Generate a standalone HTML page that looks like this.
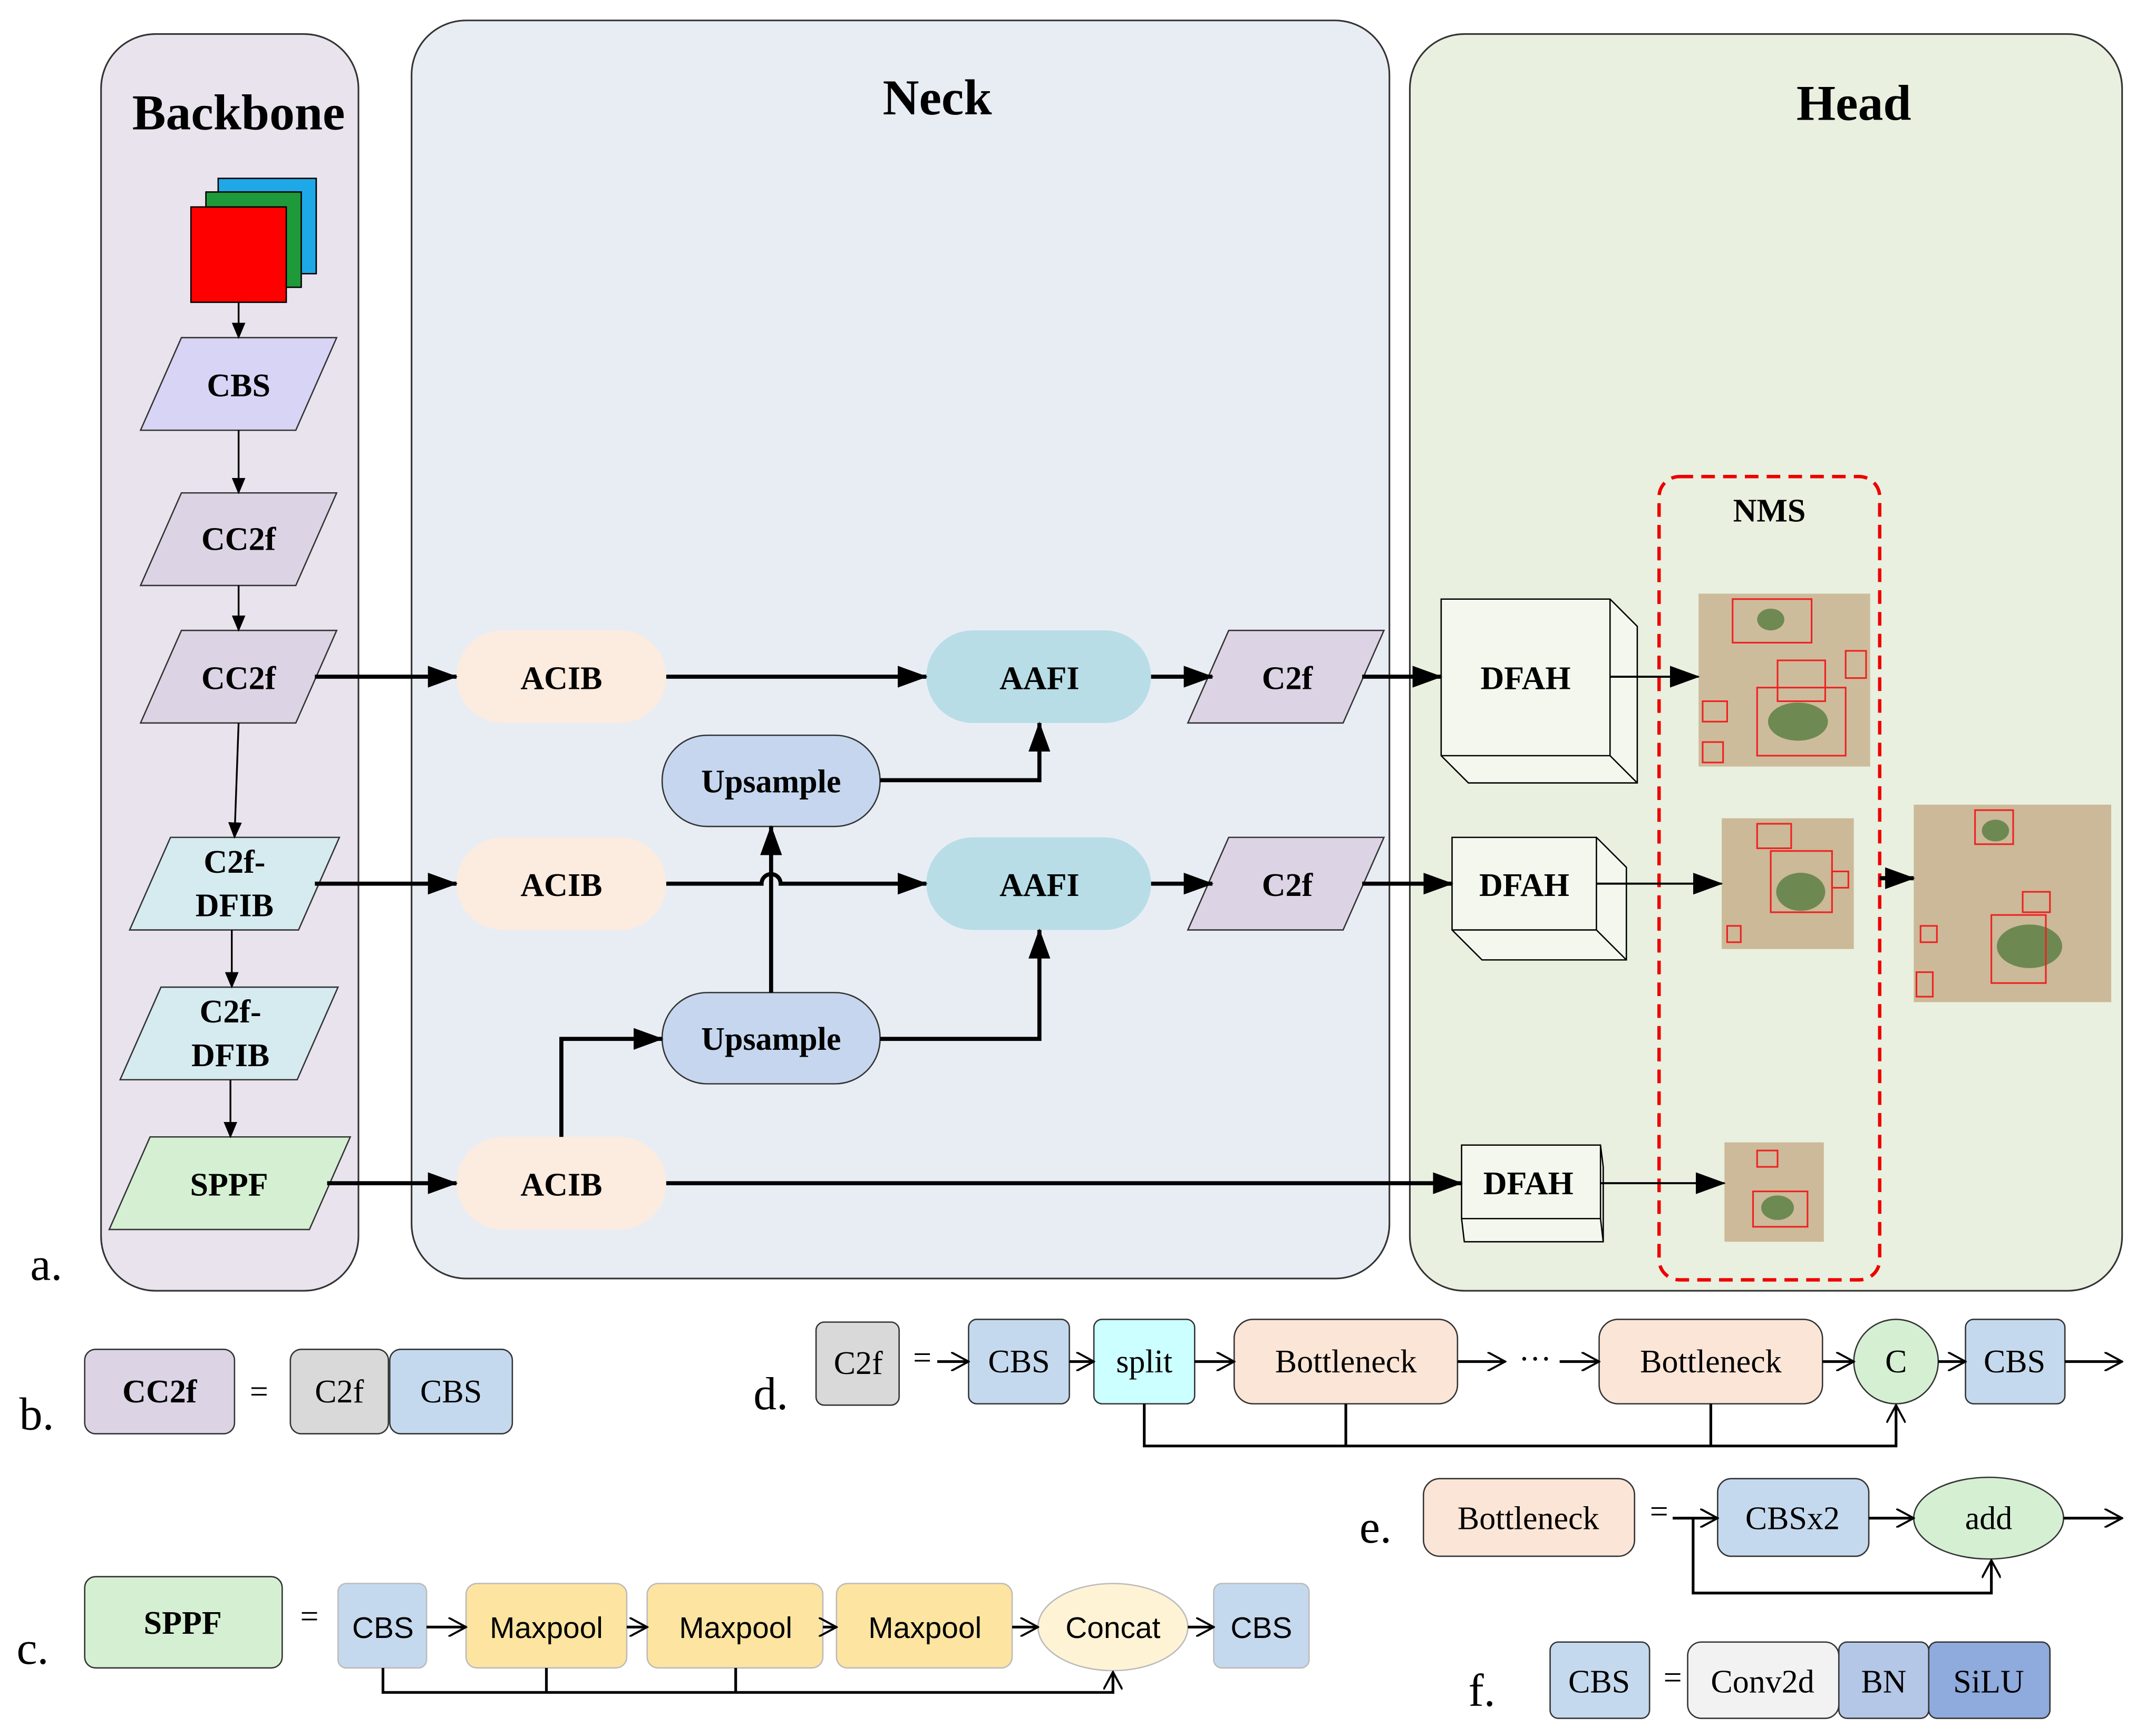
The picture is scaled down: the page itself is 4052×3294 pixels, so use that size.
<!DOCTYPE html>
<html><head><meta charset="utf-8"><style>
html,body{margin:0;padding:0;background:#fff;}
svg{display:block;}
.s{font-family:"Liberation Serif",serif;}
.ss{font-family:"Liberation Sans",sans-serif;}
.b{font-weight:bold;}
</style></head><body>
<svg width="4052" height="3294" viewBox="0 0 1568 1275" xmlns="http://www.w3.org/2000/svg">
<defs>
<marker id="A" markerWidth="22" markerHeight="16" refX="21" refY="8" orient="auto" markerUnits="userSpaceOnUse"><path d="M0,0 L22,8 L0,16 z" fill="#000"/></marker>
<marker id="a" markerWidth="12" markerHeight="10" refX="11" refY="5" orient="auto" markerUnits="userSpaceOnUse"><path d="M0,0 L12,5 L0,10 z" fill="#000"/></marker>
<marker id="o" markerWidth="14" markerHeight="14" refX="13" refY="7" orient="auto" markerUnits="userSpaceOnUse"><path d="M0,0 L13,7 L0,14" fill="none" stroke="#000" stroke-width="1.5"/></marker>
</defs>
<rect width="1568" height="1275" fill="#fff"/>
<rect x="74" y="25" width="189" height="923" rx="40" fill="#e8e3ec" stroke="#333" stroke-width="1.2"/>
<rect x="302" y="15" width="718" height="924" rx="40" fill="#e8edf4" stroke="#333" stroke-width="1.2"/>
<rect x="1035" y="25" width="523" height="923" rx="40" fill="#e9f0df" stroke="#333" stroke-width="1.2"/>
<g class="s b" font-size="37" text-anchor="middle">
<text x="175" y="95">Backbone</text><text x="688" y="84">Neck</text><text x="1361" y="88">Head</text></g>
<rect x="160" y="131" width="72" height="70" fill="#1fa8e8" stroke="#000"/>
<rect x="151" y="141" width="70" height="70" fill="#1e9a3a" stroke="#000"/>
<rect x="140" y="152" width="70" height="70" fill="#f00" stroke="#000"/>
<g stroke="#333" stroke-width="1">
<polygon points="103,316 133,248 247,248 217,316" fill="#d8d4f5"/>
<polygon points="103,430 133,362 247,362 217,430" fill="#dcd4e4"/>
<polygon points="103,531 133,463 247,463 217,531" fill="#dcd4e4"/>
<polygon points="95,683 125,615 249,615 219,683" fill="#d6ebf0"/>
<polygon points="88,793 118,725 248,725 218,793" fill="#d6ebf0"/>
<polygon points="80,903 110,835 257,835 227,903" fill="#d5efd3"/>
</g>
<g class="s b" font-size="24" text-anchor="middle">
<text x="175" y="291">CBS</text><text x="175" y="404">CC2f</text><text x="175" y="506">CC2f</text>
<text x="172" y="641">C2f-</text><text x="172" y="673">DFIB</text>
<text x="169" y="751">C2f-</text><text x="169" y="783">DFIB</text>
<text x="168" y="878">SPPF</text></g>
<g stroke="#000" stroke-width="1.3" marker-end="url(#a)">
<line x1="175" y1="222" x2="175" y2="248"/><line x1="175" y1="316" x2="175" y2="362"/>
<line x1="175" y1="430" x2="175" y2="463"/><line x1="175" y1="531" x2="172" y2="615"/>
<line x1="170" y1="683" x2="170" y2="725"/><line x1="169" y1="793" x2="169" y2="835"/></g>
<g stroke="none">
<rect x="335" y="463" width="154" height="68" rx="34" fill="#fcebdf"/>
<rect x="335" y="615" width="154" height="68" rx="34" fill="#fcebdf"/>
<rect x="335" y="835" width="154" height="68" rx="34" fill="#fcebdf"/>
<rect x="680" y="463" width="165" height="68" rx="34" fill="#b8dde6"/>
<rect x="680" y="615" width="165" height="68" rx="34" fill="#b8dde6"/>
</g>
<rect x="486" y="540" width="160" height="67" rx="33" fill="#c5d6ee" stroke="#333"/>
<rect x="486" y="729" width="160" height="67" rx="33" fill="#c5d6ee" stroke="#333"/>
<g stroke="#333"><polygon points="872,531 902,463 1016,463 986,531" fill="#dcd4e4"/>
<polygon points="872,683 902,615 1016,615 986,683" fill="#dcd4e4"/></g>
<g class="s b" font-size="24" text-anchor="middle">
<text x="412" y="506">ACIB</text><text x="412" y="658">ACIB</text><text x="412" y="878">ACIB</text>
<text x="763" y="506">AAFI</text><text x="763" y="658">AAFI</text>
<text x="566" y="582">Upsample</text><text x="566" y="771">Upsample</text>
<text x="945" y="506">C2f</text><text x="945" y="658">C2f</text></g>
<g fill="#f4f7ee" stroke="#000" stroke-width="1">
<path d="M1058,440 L1182,440 L1202,460 L1202,575 L1078,575 L1058,555 Z"/>
<path d="M1182,440 V555 H1058 M1182,555 L1202,575" fill="none"/>
<path d="M1066,615 L1172,615 L1194,637 L1194,705 L1088,705 L1066,683 Z"/>
<path d="M1172,615 V683 H1066 M1172,683 L1194,705" fill="none"/>
<path d="M1073,841 L1175,841 L1177,857 L1177,912 L1075,912 L1073,895 Z"/>
<path d="M1175,841 V895 H1073 M1175,895 L1177,912" fill="none"/>
</g>
<g class="s b" font-size="24" text-anchor="middle">
<text x="1120" y="506">DFAH</text><text x="1119" y="658">DFAH</text><text x="1122" y="877">DFAH</text></g>
<rect x="1218" y="350" width="162" height="590" rx="15" fill="none" stroke="#e00" stroke-width="2.5" stroke-dasharray="10,6"/>
<text x="1299" y="383" class="s b" font-size="24" text-anchor="middle">NMS</text>
<g>
<rect x="1247" y="436" width="126" height="127" fill="#cdbc9c"/>
<rect x="1264" y="601" width="97" height="96" fill="#cbb998"/>
<rect x="1266" y="839" width="73" height="73" fill="#ccba9a"/>
<rect x="1405" y="591" width="145" height="145" fill="#cbb999"/>
<g fill="#4e7a3a" opacity="0.75">
<ellipse cx="1320" cy="530" rx="22" ry="14"/><ellipse cx="1300" cy="455" rx="10" ry="8"/>
<ellipse cx="1322" cy="655" rx="18" ry="14"/><ellipse cx="1305" cy="887" rx="12" ry="9"/>
<ellipse cx="1490" cy="695" rx="24" ry="16"/><ellipse cx="1465" cy="610" rx="10" ry="8"/></g>
<g fill="none" stroke="#e22" stroke-width="1.2">
<rect x="1290" y="505" width="65" height="50"/><rect x="1305" y="485" width="35" height="30"/>
<rect x="1272" y="440" width="58" height="32"/><rect x="1250" y="515" width="18" height="15"/>
<rect x="1250" y="545" width="15" height="15"/><rect x="1355" y="478" width="15" height="20"/>
<rect x="1300" y="625" width="45" height="45"/><rect x="1290" y="605" width="25" height="18"/>
<rect x="1268" y="680" width="10" height="12"/><rect x="1345" y="640" width="12" height="12"/>
<rect x="1287" y="875" width="40" height="26"/><rect x="1290" y="845" width="15" height="12"/>
<rect x="1462" y="672" width="40" height="50"/><rect x="1450" y="595" width="28" height="25"/>
<rect x="1407" y="714" width="12" height="18"/><rect x="1410" y="680" width="12" height="12"/>
<rect x="1485" y="655" width="20" height="15"/></g>
</g>
<g stroke="#000" stroke-width="3" fill="none" marker-end="url(#A)">
<line x1="231" y1="497" x2="335" y2="497"/><line x1="489" y1="497" x2="680" y2="497"/>
<line x1="845" y1="497" x2="890" y2="497"/><line x1="1000" y1="497" x2="1058" y2="497"/>
<polyline points="646,573 763,573 763,531"/>
<line x1="231" y1="649" x2="335" y2="649"/>
<path d="M489,649 H559 A7,7 0 0 1 573,649 H680"/>
<line x1="845" y1="649" x2="890" y2="649"/><line x1="1000" y1="649" x2="1066" y2="649"/>
<polyline points="412,835 412,763 486,763"/>
<line x1="566" y1="729" x2="566" y2="607"/>
<polyline points="646,763 763,763 763,683"/>
<line x1="240" y1="869" x2="335" y2="869"/><line x1="489" y1="869" x2="1073" y2="869"/>
<line x1="1380" y1="645" x2="1405" y2="645"/>
</g>
<g stroke="#000" stroke-width="1.5" marker-end="url(#A)">
<line x1="1182" y1="497" x2="1247" y2="497"/><line x1="1172" y1="649" x2="1264" y2="649"/>
<line x1="1175" y1="869" x2="1266" y2="869"/></g>
<g class="s" font-size="34">
<text x="22" y="940">a.</text><text x="14" y="1050">b.</text><text x="12" y="1222">c.</text>
<text x="553" y="1035">d.</text><text x="998" y="1133">e.</text><text x="1078" y="1253">f.</text></g>
<rect x="62" y="991" width="110" height="62" rx="8" fill="#dcd4e4" stroke="#333"/>
<text x="117" y="1030" class="s b" font-size="24" text-anchor="middle">CC2f</text>
<text x="190" y="1030" class="s" font-size="24" text-anchor="middle">=</text>
<rect x="213" y="991" width="72" height="62" rx="8" fill="#d9d9d9" stroke="#333"/>
<rect x="286" y="991" width="90" height="62" rx="8" fill="#c5d9ee" stroke="#333"/>
<g class="s" font-size="24" text-anchor="middle"><text x="249" y="1030">C2f</text><text x="331" y="1030">CBS</text></g>
<rect x="62" y="1158" width="145" height="67" rx="8" fill="#d5efd3" stroke="#333"/>
<text x="134" y="1200" class="s b" font-size="24" text-anchor="middle">SPPF</text>
<text x="227" y="1195" class="s" font-size="24" text-anchor="middle">=</text>
<g stroke="#bbb">
<rect x="248" y="1163" width="65" height="62" rx="6" fill="#c5d9ee"/>
<rect x="342" y="1163" width="118" height="62" rx="8" fill="#fde4a0"/>
<rect x="475" y="1163" width="129" height="62" rx="8" fill="#fde4a0"/>
<rect x="614" y="1163" width="129" height="62" rx="8" fill="#fde4a0"/>
<ellipse cx="817" cy="1195" rx="55" ry="32" fill="#fff3d6"/>
<rect x="891" y="1163" width="70" height="62" rx="6" fill="#c5d9ee"/></g>
<g class="ss" font-size="22" text-anchor="middle">
<text x="281" y="1203">CBS</text><text x="401" y="1203">Maxpool</text><text x="540" y="1203">Maxpool</text>
<text x="679" y="1203">Maxpool</text><text x="817" y="1203">Concat</text><text x="926" y="1203">CBS</text></g>
<g stroke="#000" stroke-width="2" fill="none">
<line x1="313" y1="1195" x2="342" y2="1195" marker-end="url(#o)"/>
<line x1="460" y1="1195" x2="475" y2="1195" marker-end="url(#o)"/>
<line x1="604" y1="1195" x2="614" y2="1195" marker-end="url(#o)"/>
<line x1="743" y1="1195" x2="762" y2="1195" marker-end="url(#o)"/>
<line x1="872" y1="1195" x2="891" y2="1195" marker-end="url(#o)"/>
<polyline points="281,1225 281,1243 817,1243 817,1228" marker-end="url(#o)"/>
<line x1="401" y1="1225" x2="401" y2="1243"/><line x1="540" y1="1225" x2="540" y2="1243"/>
</g>
<rect x="599" y="971" width="61" height="61" rx="6" fill="#d9d9d9" stroke="#333"/>
<text x="677" y="1005" class="s" font-size="24" text-anchor="middle">=</text>
<rect x="711" y="969" width="74" height="62" rx="6" fill="#c5d9ee" stroke="#333"/>
<rect x="803" y="969" width="74" height="62" rx="6" fill="#ccffff" stroke="#333"/>
<rect x="906" y="969" width="164" height="62" rx="14" fill="#fbe5d6" stroke="#333"/>
<rect x="1174" y="969" width="164" height="62" rx="14" fill="#fbe5d6" stroke="#333"/>
<circle cx="1392" cy="1000" r="31" fill="#d5efd3" stroke="#333"/>
<rect x="1443" y="969" width="73" height="62" rx="6" fill="#c5d9ee" stroke="#333"/>
<g class="s" font-size="24" text-anchor="middle">
<text x="630" y="1009">C2f</text><text x="748" y="1008">CBS</text><text x="840" y="1008">split</text>
<text x="988" y="1008">Bottleneck</text><text x="1127" y="1006">···</text><text x="1256" y="1008">Bottleneck</text>
<text x="1392" y="1008">C</text><text x="1479" y="1008">CBS</text></g>
<g stroke="#000" stroke-width="2" fill="none">
<line x1="688" y1="1000" x2="711" y2="1000" marker-end="url(#o)"/>
<line x1="785" y1="1000" x2="803" y2="1000" marker-end="url(#o)"/>
<line x1="877" y1="1000" x2="906" y2="1000" marker-end="url(#o)"/>
<line x1="1070" y1="1000" x2="1105" y2="1000" marker-end="url(#o)"/>
<line x1="1145" y1="1000" x2="1174" y2="1000" marker-end="url(#o)"/>
<line x1="1338" y1="1000" x2="1361" y2="1000" marker-end="url(#o)"/>
<line x1="1423" y1="1000" x2="1443" y2="1000" marker-end="url(#o)"/>
<line x1="1516" y1="1000" x2="1558" y2="1000" marker-end="url(#o)"/>
<polyline points="840,1031 840,1062 1392,1062 1392,1032" marker-end="url(#o)"/>
<line x1="988" y1="1031" x2="988" y2="1062"/><line x1="1256" y1="1031" x2="1256" y2="1062"/>
</g>
<rect x="1045" y="1086" width="155" height="57" rx="12" fill="#fbe5d6" stroke="#333"/>
<text x="1122" y="1123" class="s" font-size="24" text-anchor="middle">Bottleneck</text>
<text x="1218" y="1118" class="s" font-size="24" text-anchor="middle">=</text>
<rect x="1261" y="1086" width="111" height="57" rx="10" fill="#c5d9ee" stroke="#333"/>
<ellipse cx="1460" cy="1115" rx="55" ry="30" fill="#d5efd3" stroke="#333"/>
<g class="s" font-size="24" text-anchor="middle"><text x="1316" y="1123">CBSx2</text><text x="1460" y="1123">add</text></g>
<g stroke="#000" stroke-width="2" fill="none">
<line x1="1228" y1="1115" x2="1261" y2="1115" marker-end="url(#o)"/>
<line x1="1372" y1="1115" x2="1405" y2="1115" marker-end="url(#o)"/>
<line x1="1515" y1="1115" x2="1558" y2="1115" marker-end="url(#o)"/>
<polyline points="1243,1115 1243,1170 1462,1170 1462,1146" marker-end="url(#o)"/>
</g>
<rect x="1138" y="1206" width="73" height="56" rx="6" fill="#c5d9ee" stroke="#333"/>
<text x="1228" y="1240" class="s" font-size="24" text-anchor="middle">=</text>
<rect x="1239" y="1206" width="111" height="56" rx="10" fill="#f2f2f2" stroke="#333"/>
<rect x="1350" y="1206" width="66" height="56" rx="6" fill="#b4c7e7" stroke="#333"/>
<rect x="1416" y="1206" width="89" height="56" rx="6" fill="#8faadc" stroke="#333"/>
<g class="s" font-size="24" text-anchor="middle"><text x="1174" y="1243">CBS</text><text x="1294" y="1243">Conv2d</text>
<text x="1383" y="1243">BN</text><text x="1460" y="1243">SiLU</text></g>
</svg>
</body></html>
